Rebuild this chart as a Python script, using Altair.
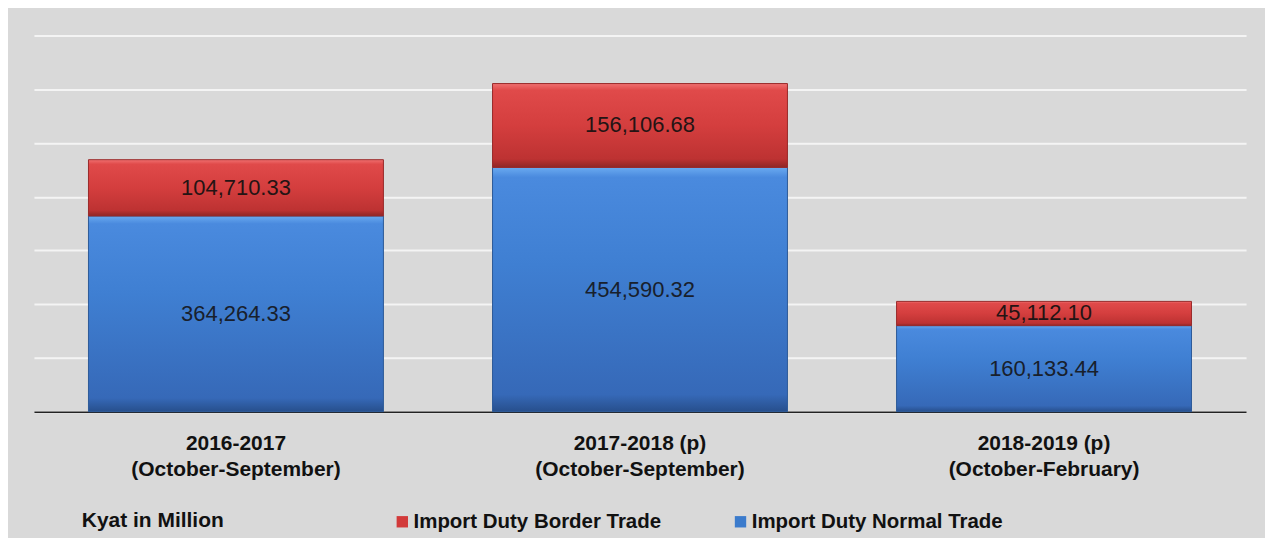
import altair as alt
import pandas as pd

periods = ["2016-2017\n(October-September)",
           "2017-2018 (p)\n(October-September)",
           "2018-2019 (p)\n(October-February)"]
normal = [364264.33, 454590.32, 160133.44]
border = [104710.33, 156106.68, 45112.10]
series = ["Import Duty Border Trade", "Import Duty Normal Trade"]
series_colors = ["#d23a3a", "#3b7bcc"]
grid_values = [0, 100000, 200000, 300000, 400000, 500000, 600000, 700000]

df = pd.DataFrame({"period": periods, "normal": normal, "border": border})
long_df = pd.DataFrame({
    "period": periods * 2,
    "series": [series[1]] * 3 + [series[0]] * 3,
    "value": normal + border,
})

FONT = "Liberation Sans"

x_enc = alt.X(
    "period:N", sort=periods, title=None,
    scale=alt.Scale(paddingInner=0.27, paddingOuter=0.135),
    axis=alt.Axis(labelExpr="split(datum.label, '\\n')", labelAngle=0,
                  labelFont=FONT, labelFontSize=21, labelFontWeight="bold",
                  labelColor="#111", labelLineHeight=26, labelPadding=21,
                  labelLimit=600,
                  ticks=False, domainColor="#222", domainWidth=1.5),
)
y_scale = alt.Scale(domain=[0, 700000], nice=False, zero=True)
y_axis = alt.Axis(values=grid_values, labels=False, ticks=False, domain=False,
                  grid=True, gridColor="#f4f4f4", gridWidth=2, title=None)

blue_grad = alt.LinearGradient(
    gradient="linear", x1=0, y1=0, x2=0, y2=1,
    stops=[alt.GradientStop(color="#6aaaf0", offset=0),
           alt.GradientStop(color="#4a8ade", offset=0.04),
           alt.GradientStop(color="#3f7fd2", offset=0.4),
           alt.GradientStop(color="#3669b8", offset=0.93),
           alt.GradientStop(color="#274f8c", offset=1)])
red_grad = alt.LinearGradient(
    gradient="linear", x1=0, y1=0, x2=0, y2=1,
    stops=[alt.GradientStop(color="#f07070", offset=0),
           alt.GradientStop(color="#e04a4a", offset=0.08),
           alt.GradientStop(color="#d43e3e", offset=0.5),
           alt.GradientStop(color="#bd3232", offset=0.9),
           alt.GradientStop(color="#8e2626", offset=1)])

base = alt.Chart(df).transform_calculate(
    total="datum.normal + datum.border",
    nmid="datum.normal / 2",
    bmid="datum.normal + datum.border / 2",
)

blue_bars = base.mark_bar(fill=blue_grad, stroke="#2d5a99", strokeWidth=1).encode(
    x=x_enc,
    y=alt.Y("normal:Q", scale=y_scale, axis=y_axis),
)
red_bars = base.mark_bar(fill=red_grad, stroke="#9a2a2a", strokeWidth=1).encode(
    x=x_enc,
    y=alt.Y("normal:Q", scale=y_scale, axis=y_axis),
    y2="total:Q",
)
blue_text = base.mark_text(font=FONT, fontSize=22, color="#18202c",
                           baseline="middle").encode(
    x=x_enc,
    y=alt.Y("nmid:Q", scale=y_scale, axis=y_axis),
    text=alt.Text("normal:Q", format=",.2f"),
)
red_text = base.mark_text(font=FONT, fontSize=22, color="#241414",
                          baseline="middle").encode(
    x=x_enc,
    y=alt.Y("bmid:Q", scale=y_scale, axis=y_axis),
    text=alt.Text("border:Q", format=",.2f"),
)

legend_layer = alt.Chart(long_df).mark_square(opacity=0).encode(
    x=x_enc,
    y=alt.Y("value:Q", scale=y_scale, axis=y_axis),
    color=alt.Color(
        "series:N",
        scale=alt.Scale(domain=series, range=series_colors),
        legend=alt.Legend(
            orient="none", legendX=48, legendY=477, direction="horizontal",
            title="Kyat in Million", titleOrient="left", titleFont=FONT,
            titleFontSize=21, titleFontWeight="bold", titleColor="#111",
            titlePadding=168, titleBaseline="middle", titleAnchor="middle",
            labelFont=FONT, labelFontSize=20.5, labelFontWeight="bold",
            labelColor="#111", labelOffset=1, symbolType="square",
            symbolSize=130, symbolOpacity=1, symbolStrokeWidth=0,
            columnPadding=69, padding=0, labelLimit=400,
        ),
    ),
)

chart = alt.layer(blue_bars, red_bars, blue_text, red_text, legend_layer).properties(
    width=1215, height=377,
    background="#d9d9d9",
    padding={"left": 26, "top": 27, "right": 19, "bottom": 126},
    autosize=alt.AutoSizeParams(type="none"),
).configure_view(stroke=None, fill="#d9d9d9")

chart.save("out.html", embed_options={"renderer": "svg", "actions": False})
